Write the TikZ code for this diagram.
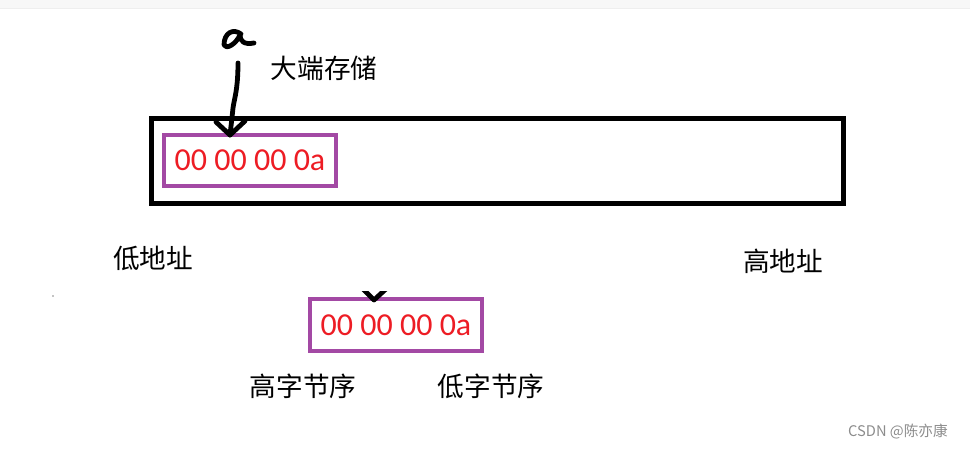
\documentclass[tikz,border=0pt]{standalone}
\usepackage{fontspec}
\setmainfont{Carlito}
\newfontfamily\cjk{Noto Sans CJK SC}
\usetikzlibrary{arrows.meta}
\definecolor{boxpurple}{HTML}{A349A4}
\definecolor{numred}{HTML}{ED1C24}
\definecolor{topgray}{HTML}{F7F7F7}
\definecolor{lingray}{HTML}{EEEEEE}

\begin{document}
\begin{tikzpicture}[x=0.75pt,y=-0.75pt,>=Stealth]
\tikzstyle{lbl}=[font=\cjk\fontsize{20}{24}\selectfont,inner sep=0pt]
\tikzstyle{bytes}=[draw=boxpurple,line width=3pt,minimum width=129pt,minimum height=38.5pt,inner sep=0pt,text=numred,font=\fontsize{24}{28}\selectfont]
\tikzstyle{pen}=[line width=3.6pt,line cap=round,line join=round]
\useasboundingbox (0,0) rectangle (970,449);
\fill[topgray] (0,0) rectangle (970,8);
\fill[lingray] (0,8) rectangle (970,9.5);
% memory block
\node[draw,line width=3.75pt,minimum width=519pt,minimum height=63pt,inner sep=0pt] (mem) at (497,161) {};
\node[bytes] (big) at (250,160.5) {00 00 00 0a};
\node[bytes] (seq) at (396,325) {00 00 00 0a};
\node[lbl] (bigend) at (324,68) {大端存储};
\node[lbl] (low) at (153,258) {低地址};
\node[lbl] (high) at (783,261) {高地址};
\node[lbl] (hibyte) at (303,386) {高字节序};
\node[lbl] (lobyte) at (491,386) {低字节序};
\node[font=\fontsize{11}{13}\selectfont\cjk,text=black!45,inner sep=0pt] (mark) at (898,432) {CSDN @陈亦康};
% handwritten a and arrow
\draw[pen] (241,34) .. controls (233,28) and (224,33) .. (224,45) .. controls (226,50) and (236,44) .. (240,35) .. controls (240,41) and (244,45) .. (254,43);
\coordinate (pin) at (238,63);
\coordinate (tip) at (230,135);
\draw[pen] (pin) .. controls (238,90) and (234,100) .. (233,108) .. controls (232,118) and (231,126) .. (tip);
\draw[pen] (216,122) -- (tip) -- (245,121);
% second arrow, cut off
\begin{scope}
\clip (355,291) rectangle (395,310);
\coordinate (tip2) at (374,300);
\draw[pen] (362,288) -- (tip2) -- (387,288);
\end{scope}
\fill (53,296) circle (0.7);
\end{tikzpicture}
\end{document}
